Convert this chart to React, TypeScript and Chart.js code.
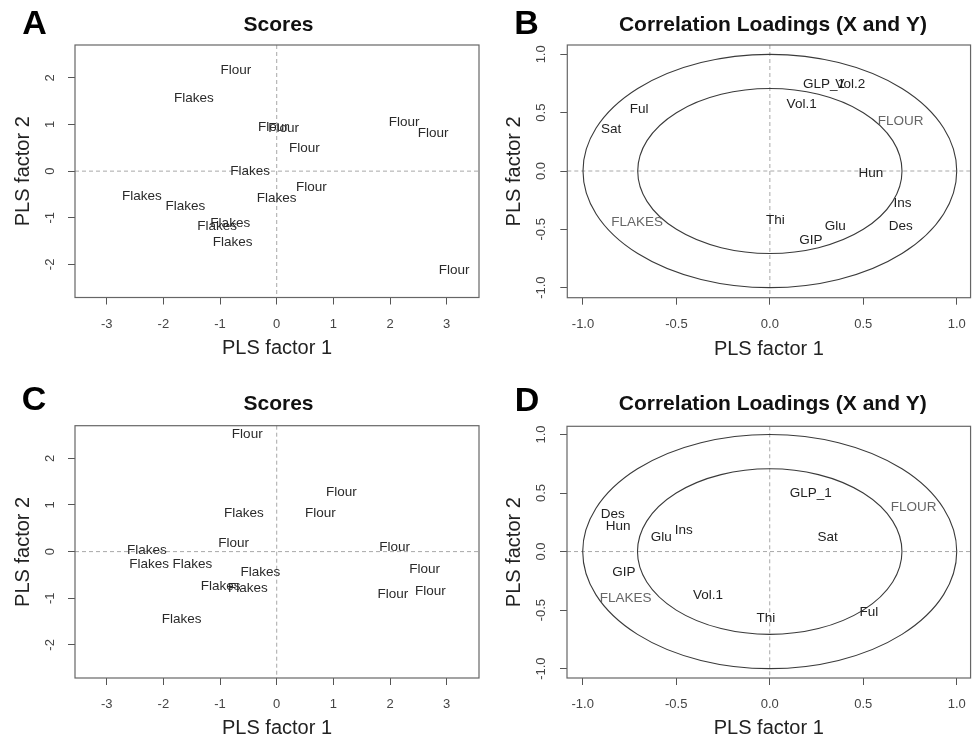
import React, { useEffect, useRef } from "react";
import { Chart, registerables } from "chart.js";

Chart.register(...registerables);

const FONT = "'Liberation Sans', Arial, Helvetica, sans-serif";

// ---------- Panel A: Scores ----------
const A_LABELS = ["Flour", "Flakes", "Flour", "Flour", "Flour", "Flour", "Flour", "Flakes", "Flour", "Flakes", "Flakes", "Flakes", "Flakes", "Flakes", "Flakes", "Flour"];
const A_X = [-0.72, -1.46, -0.06, 0.12, 0.49, 2.25, 2.76, -0.47, 0.61, 0.0, -2.38, -1.61, -0.82, -1.05, -0.78, 3.13];
const A_Y = [2.16, 1.57, 0.93, 0.92, 0.5, 1.04, 0.81, 0.0, -0.34, -0.59, -0.53, -0.76, -1.12, -1.19, -1.52, -2.12];

// ---------- Panel B: Correlation loadings ----------
const B_XVAR_LABELS = ["GLP_1", "Vol.2", "Vol.1", "Ful", "Sat", "Hun", "Ins", "Des", "Thi", "Glu", "GIP"];
const B_XVAR_X = [0.29, 0.43, 0.17, -0.7, -0.85, 0.54, 0.71, 0.7, 0.03, 0.35, 0.22];
const B_XVAR_Y = [0.74, 0.74, 0.57, 0.53, 0.36, -0.02, -0.28, -0.47, -0.42, -0.47, -0.59];
const B_YVAR_LABELS = ["FLOUR", "FLAKES"];
const B_YVAR_X = [0.7, -0.71];
const B_YVAR_Y = [0.43, -0.44];

// ---------- Panel C: Scores ----------
const C_LABELS = ["Flour", "Flour", "Flakes", "Flour", "Flour", "Flakes", "Flour", "Flakes", "Flakes", "Flakes", "Flour", "Flakes", "Flakes", "Flour", "Flour", "Flakes"];
const C_X = [-0.52, 1.14, -0.58, 0.77, -0.76, -2.29, 2.08, -2.25, -1.49, -0.29, 2.61, -0.99, -0.51, 2.05, 2.71, -1.68];
const C_Y = [2.52, 1.27, 0.82, 0.82, 0.18, 0.02, 0.09, -0.28, -0.28, -0.44, -0.38, -0.74, -0.79, -0.91, -0.85, -1.46];

// ---------- Panel D: Correlation loadings ----------
const D_XVAR_LABELS = ["GLP_1", "Des", "Hun", "Ins", "Glu", "Sat", "GIP", "Vol.1", "Thi", "Ful"];
const D_XVAR_X = [0.22, -0.84, -0.81, -0.46, -0.58, 0.31, -0.78, -0.33, -0.02, 0.53];
const D_XVAR_Y = [0.5, 0.32, 0.22, 0.18, 0.12, 0.12, -0.18, -0.37, -0.57, -0.52];
const D_YVAR_LABELS = ["FLOUR", "FLAKES"];
const D_YVAR_X = [0.77, -0.77];
const D_YVAR_Y = [0.38, -0.4];

// ---------- Axes / text ----------
const SCORE_X_TICKS = [-3, -2, -1, 0, 1, 2, 3];
const SCORE_Y_TICKS = [-2, -1, 0, 1, 2];
const LOADING_TICKS = [-1, -0.5, 0, 0.5, 1];
const CIRCLE_RADII = [1, Math.SQRT1_2];
const PANEL_LETTERS = ["A", "B", "C", "D"];
const PANEL_TITLES = ["Scores", "Correlation Loadings (X and Y)", "Scores", "Correlation Loadings (X and Y)"];
const X_AXIS_TITLE = "PLS factor 1";
const Y_AXIS_TITLE = "PLS factor 2";

const W = 489;
const H = 368;
const TICK_SIZE = 13;

const decorPlugin = {
  id: "decor",
  beforeDatasetsDraw(chart: any, _args: any, opts: any) {
    const { ctx, chartArea } = chart;
    const { left, right, top, bottom } = chartArea;
    const xs = chart.scales.x;
    const ys = chart.scales.y;
    const x0 = xs.getPixelForValue(0);
    const y0 = ys.getPixelForValue(0);
    ctx.save();
    ctx.strokeStyle = "#a8a8a8";
    ctx.lineWidth = 1;
    ctx.setLineDash([4, 3]);
    ctx.beginPath();
    ctx.moveTo(x0, top);
    ctx.lineTo(x0, bottom);
    ctx.moveTo(left, y0);
    ctx.lineTo(right, y0);
    ctx.stroke();
    ctx.setLineDash([]);
    ctx.strokeStyle = "#3a3a3a";
    ctx.lineWidth = 1.1;
    (opts.circles || []).forEach((r: number) => {
      const rx = Math.abs(xs.getPixelForValue(r) - x0);
      const ry = Math.abs(ys.getPixelForValue(r) - y0);
      ctx.beginPath();
      ctx.ellipse(x0, y0, rx, ry, 0, 0, Math.PI * 2);
      ctx.stroke();
    });
    ctx.strokeStyle = "#666";
    ctx.lineWidth = 1.2;
    ctx.strokeRect(left, top, right - left, bottom - top);
    ctx.restore();
  },
  afterDatasetsDraw(chart: any, _args: any, opts: any) {
    const { ctx, chartArea } = chart;
    ctx.save();
    ctx.textAlign = "center";
    ctx.textBaseline = "middle";
    ctx.font = `13.5px ${FONT}`;
    chart.data.datasets.forEach((ds: any, i: number) => {
      const meta = chart.getDatasetMeta(i);
      ctx.fillStyle = ds.labelColor;
      meta.data.forEach((pt: any, j: number) => {
        ctx.fillText(ds.textLabels[j], pt.x, pt.y);
      });
    });
    // main title
    ctx.fillStyle = "#111";
    ctx.font = `bold 21px ${FONT}`;
    ctx.fillText(opts.title, (chartArea.left + chartArea.right) / 2 + (opts.titleDX || 0), opts.titleY);
    // panel letter
    ctx.fillStyle = "#000";
    ctx.font = `bold 34px ${FONT}`;
    ctx.fillText(opts.letter, opts.letterX, opts.letterY);
    ctx.restore();
  },
};

function makeConfig(p: any) {
  const fmt = (v: any) => Number(v).toFixed(p.decimals);
  return {
    type: "scatter",
    data: {
      datasets: p.sets.map((s: any) => ({
        data: s.xs.map((x: number, i: number) => ({ x, y: s.ys[i] })),
        textLabels: s.labels,
        labelColor: s.color,
        pointRadius: 0,
        pointHoverRadius: 0,
        showLine: false,
      })),
    },
    options: {
      responsive: false,
      animation: false,
      events: [],
      layout: { padding: { top: p.top, right: p.right, left: 0, bottom: 0 } },
      plugins: {
        legend: { display: false },
        tooltip: { enabled: false },
        decor: {
          circles: p.circles,
          title: p.title,
          titleY: p.titleY,
          titleDX: p.titleDX,
          letter: p.letter,
          letterX: p.letterX,
          letterY: p.letterY,
        },
      },
      scales: {
        x: {
          type: "linear",
          position: "bottom",
          min: p.xMin,
          max: p.xMax,
          afterBuildTicks: (s: any) => {
            s.ticks = p.xTicks.map((v: number) => ({ value: v }));
          },
          afterFit: (s: any) => {
            s.height = p.xHeight;
          },
          grid: { display: true, drawOnChartArea: false, drawTicks: true, tickLength: 7, color: "#555", lineWidth: 1 },
          border: { display: false },
          ticks: {
            autoSkip: false,
            padding: p.xTickPad,
            color: "#444",
            minRotation: 0,
            maxRotation: 0,
            font: { family: FONT, size: TICK_SIZE },
            callback: fmt,
          },
          title: {
            display: true,
            text: X_AXIS_TITLE,
            color: "#222",
            font: { family: FONT, size: 20 },
            padding: { top: 0, bottom: p.xTitlePad },
          },
        },
        y: {
          type: "linear",
          position: "left",
          min: p.yMin,
          max: p.yMax,
          afterBuildTicks: (s: any) => {
            s.ticks = p.yTicks.map((v: number) => ({ value: v }));
          },
          afterFit: (s: any) => {
            s.width = p.yWidth;
          },
          grid: { display: true, drawOnChartArea: false, drawTicks: true, tickLength: 7, color: "#555", lineWidth: 1 },
          border: { display: false },
          ticks: {
            autoSkip: false,
            padding: p.yTickPad,
            color: "#444",
            minRotation: 90,
            maxRotation: 90,
            crossAlign: "center",
            font: { family: FONT, size: TICK_SIZE },
            callback: fmt,
          },
          title: {
            display: true,
            text: Y_AXIS_TITLE,
            color: "#222",
            font: { family: FONT, size: 20 },
            padding: { top: p.yTitlePad, bottom: 0 },
          },
        },
      },
    },
    plugins: [decorPlugin],
  };
}

const SCORE_COLOR = "#2a2a2a";
const XVAR_COLOR = "#222";
const YVAR_COLOR = "#666";

const SPECS = [
  {
    letter: PANEL_LETTERS[0], title: PANEL_TITLES[0],
    sets: [{ labels: A_LABELS, xs: A_X, ys: A_Y, color: SCORE_COLOR }],
    xMin: -3.56, xMax: 3.57, yMin: -2.71, yMax: 2.705, xTicks: SCORE_X_TICKS, yTicks: SCORE_Y_TICKS, decimals: 0,
    circles: [], top: 45, right: 10, yWidth: 75, xHeight: 70.5,
    yTickPad: 12, xTickPad: 12, xTitlePad: 7.7, yTitlePad: 11.3,
    letterX: 34.5, letterY: 24.5, titleY: 25.5, titleDX: 1.5, left: 0, topPos: 0,
  },
  {
    letter: PANEL_LETTERS[1], title: PANEL_TITLES[1],
    sets: [
      { labels: B_XVAR_LABELS, xs: B_XVAR_X, ys: B_XVAR_Y, color: XVAR_COLOR },
      { labels: B_YVAR_LABELS, xs: B_YVAR_X, ys: B_YVAR_Y, color: YVAR_COLOR },
    ],
    xMin: -1.084, xMax: 1.074, yMin: -1.086, yMax: 1.08, xTicks: LOADING_TICKS, yTicks: LOADING_TICKS, decimals: 1,
    circles: CIRCLE_RADII, top: 45, right: 6.7, yWidth: 78.3, xHeight: 70.3,
    yTickPad: 7.5, xTickPad: 12, xTitlePad: 7, yTitlePad: 13,
    letterX: 37.5, letterY: 25, titleY: 25.5, titleDX: 4, left: W, topPos: 0,
  },
  {
    letter: PANEL_LETTERS[2], title: PANEL_TITLES[2],
    sets: [{ labels: C_LABELS, xs: C_X, ys: C_Y, color: SCORE_COLOR }],
    xMin: -3.56, xMax: 3.57, yMin: -2.71, yMax: 2.7, xTicks: SCORE_X_TICKS, yTicks: SCORE_Y_TICKS, decimals: 0,
    circles: [], top: 57.7, right: 10, yWidth: 75, xHeight: 58,
    yTickPad: 12, xTickPad: 12, xTitlePad: -4.7, yTitlePad: 11.3,
    letterX: 34, letterY: 32.5, titleY: 36.7, titleDX: 1.5, left: 0, topPos: H,
  },
  {
    letter: PANEL_LETTERS[3], title: PANEL_TITLES[3],
    sets: [
      { labels: D_XVAR_LABELS, xs: D_XVAR_X, ys: D_XVAR_Y, color: XVAR_COLOR },
      { labels: D_YVAR_LABELS, xs: D_YVAR_X, ys: D_YVAR_Y, color: YVAR_COLOR },
    ],
    xMin: -1.084, xMax: 1.074, yMin: -1.08, yMax: 1.07, xTicks: LOADING_TICKS, yTicks: LOADING_TICKS, decimals: 1,
    circles: CIRCLE_RADII, top: 58.3, right: 6.7, yWidth: 78, xHeight: 58,
    yTickPad: 7.5, xTickPad: 12, xTitlePad: -4.7, yTitlePad: 13,
    letterX: 38, letterY: 34, titleY: 36.7, titleDX: 4, left: W, topPos: H,
  },
];

function Panel({ spec }: { spec: any }) {
  const ref = useRef<HTMLCanvasElement | null>(null);
  useEffect(() => {
    if (!ref.current) return;
    const chart = new Chart(ref.current, makeConfig(spec) as any);
    return () => chart.destroy();
  }, [spec]);
  return (
    <canvas
      ref={ref}
      width={W}
      height={H}
      style={{ position: "absolute", left: spec.left, top: spec.topPos, width: W, height: H }}
    />
  );
}

export default function App() {
  return (
    <div style={{ position: "absolute", left: 0, top: 0, width: 978, height: 736, background: "#fff", overflow: "hidden" }}>
      {SPECS.map((s) => (
        <Panel key={s.letter} spec={s} />
      ))}
    </div>
  );
}
